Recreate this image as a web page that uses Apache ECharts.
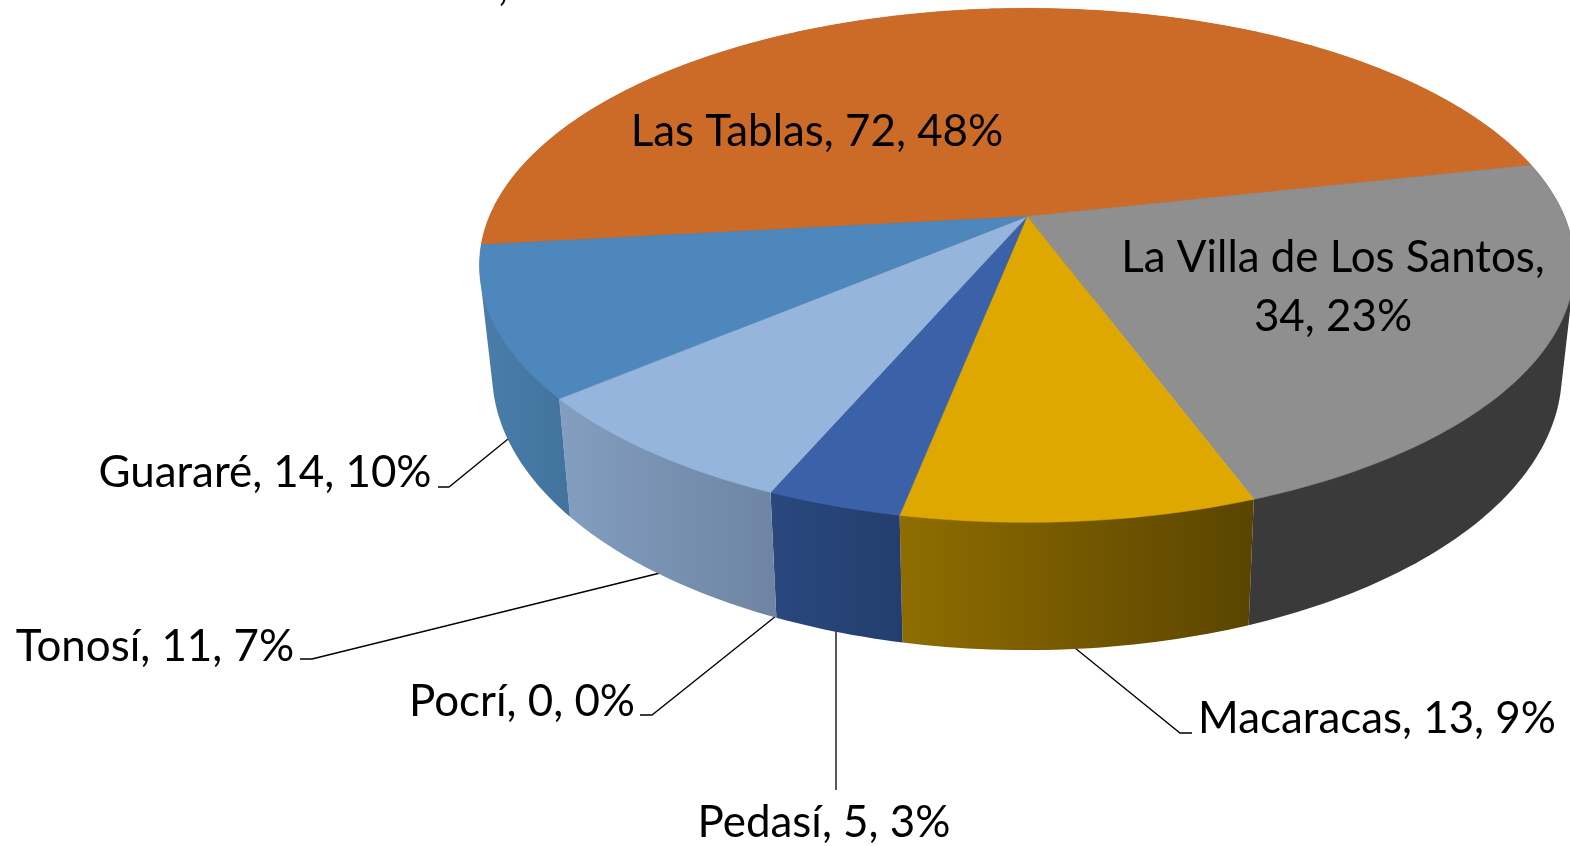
<!DOCTYPE html>
<html>
<head>
<meta charset="utf-8">
<title>Pie</title>
<script src="https://cdn.jsdelivr.net/npm/echarts@6/dist/echarts.min.js"></script>
<style>html,body{margin:0;padding:0;background:#fff}#c{width:1570px;height:846px}</style>
</head>
<body>
<div id="c"></div>
<script>
// ---- data ----
const categories = ['Las Tablas', 'La Villa de Los Santos', 'Macaracas', 'Pedasí', 'Pocrí', 'Tonosí', 'Guararé'];
const values = [72, 34, 13, 5, 0, 11, 14];
const percents = [48, 23, 9, 3, 0, 7, 10];

// ---- styling ----
const topColors = ['#CC6B28', '#8F8F8F', '#DFA800', '#3B62A9', '#7F7F7F', '#95B5DC', '#4E87BB'];
const sideColors = [
  ['#8A4A1C', '#8A4A1C'], ['#3A3A3A', '#3A3A3A'], ['#8F6D00', '#5A4400'], ['#2A487F', '#233E6E'],
  ['#555555', '#555555'], ['#839EC0', '#6E84A2'], ['#4A7DAA', '#41739E']
];
const FONT = 'Lato, Carlito, Calibri, sans-serif';
const FONT_SIZE = 43.9;

// ---- perspective disc geometry ----
const geo = { cx: 1027, cy: 216.5, rx: 537.5, ry: 247.7, k: 0.19, depth: 103.5, shrink: 0.977, start: 173.6 };

function topPoint(deg) {
  const t = deg * Math.PI / 180, s = Math.sin(t), w = 1 - geo.k * s;
  return [geo.cx + geo.rx * Math.cos(t) / w, geo.cy + geo.ry * s / w];
}
function bottomPoint(deg) {
  const p = topPoint(deg), s = Math.sin(deg * Math.PI / 180);
  return [geo.cx + (p[0] - geo.cx) * geo.shrink, p[1] + geo.depth / (1 - geo.k * s)];
}
const total = values.reduce((a, b) => a + b, 0);
function sliceRange(i) {
  let a = geo.start;
  for (let j = 0; j < i; j++) a += values[j] / total * 360;
  return [a, a + values[i] / total * 360];
}
function arc(fn, a, b) {
  const pts = [], n = Math.max(2, Math.ceil(Math.abs(b - a)));
  for (let i = 0; i <= n; i++) pts.push(fn(a + (b - a) * i / n));
  return pts;
}
// Outline of a solid wall: straight tangents join the top and bottom rims.
function hull(points) {
  const pts = points.slice().sort((p, q) => p[0] - q[0] || p[1] - q[1]);
  const cross = (o, a, b) => (a[0] - o[0]) * (b[1] - o[1]) - (a[1] - o[1]) * (b[0] - o[0]);
  const half = list => {
    const out = [];
    for (const p of list) {
      while (out.length > 1 && cross(out[out.length - 2], out[out.length - 1], p) <= 0) out.pop();
      out.push(p);
    }
    out.pop();
    return out;
  };
  return half(pts).concat(half(pts.slice().reverse()));
}

// ---- label placement (centre of text, leader line) ----
const labelLayout = [
  { x: 817, y: 132 },
  { x: 1333, y: 287 },
  { x: 1377, y: 719, line: [[1075, 648], [1180, 733], [1192, 733]] },
  { x: 824, y: 823, line: [[836, 630], [836, 790]] },
  { x: 522, y: 702, line: [[776, 616], [652, 715], [640, 715]] },
  { x: 155, y: 647, line: [[660, 573], [312, 659], [300, 659]] },
  { x: 265, y: 473, line: [[508, 439], [449, 487], [438, 487]] }
];
function labelText(i) {
  const name = categories[i], rest = values[i] + ', ' + percents[i] + '%';
  return i === 1 ? name + ',\n' + rest : name + ', ' + rest;
}

const seriesData = values.map(v => [v]);

const chart = echarts.init(document.getElementById('c'));
chart.setOption({
  animation: false,
  backgroundColor: '#ffffff',
  series: [
    { // leader lines
      type: 'custom', coordinateSystem: 'none', z: 1, silent: true, data: seriesData,
      renderItem(p) {
        const l = labelLayout[p.dataIndex].line;
        if (!l) return { type: 'group', children: [] };
        return { type: 'polyline', shape: { points: l }, style: { stroke: '#000', lineWidth: 1.3, fill: null } };
      }
    },
    { // side walls
      type: 'custom', coordinateSystem: 'none', z: 2, silent: true, data: seriesData,
      renderItem(p, api) {
        const i = p.dataIndex;
        if (api.value(0) <= 0) return { type: 'group', children: [] };
        const [a, b] = sliceRange(i);
        const pts = hull(arc(topPoint, a, b).concat(arc(bottomPoint, a, b)));
        const fill = new echarts.graphic.LinearGradient(0, 0, 1, 0, [
          { offset: 0, color: sideColors[i][0] }, { offset: 1, color: sideColors[i][1] }
        ]);
        return { type: 'polygon', shape: { points: pts }, style: { fill: fill } };
      }
    },
    { // top faces
      type: 'custom', coordinateSystem: 'none', z: 3, silent: true, data: seriesData,
      renderItem(p, api) {
        const i = p.dataIndex;
        if (api.value(0) <= 0) return { type: 'group', children: [] };
        const [a, b] = sliceRange(i);
        const pts = [[geo.cx, geo.cy]].concat(arc(topPoint, a, b));
        return { type: 'polygon', shape: { points: pts },
          style: { fill: topColors[i], stroke: topColors[i], lineWidth: 0.6 } };
      }
    },
    { // labels
      type: 'custom', coordinateSystem: 'none', z: 4, silent: true, data: seriesData,
      renderItem(p) {
        const i = p.dataIndex, o = labelLayout[i];
        return { type: 'text', x: o.x, y: o.y, style: {
          text: labelText(i), fill: '#000', font: FONT_SIZE + 'px ' + FONT,
          align: 'center', verticalAlign: 'middle', lineHeight: 59
        } };
      }
    }
  ],
  graphic: [{ type: 'text', x: 498, y: -36, z: 5, style: { text: ',', fill: '#000', font: FONT_SIZE + 'px ' + FONT } }]
});
</script>
</body>
</html>
